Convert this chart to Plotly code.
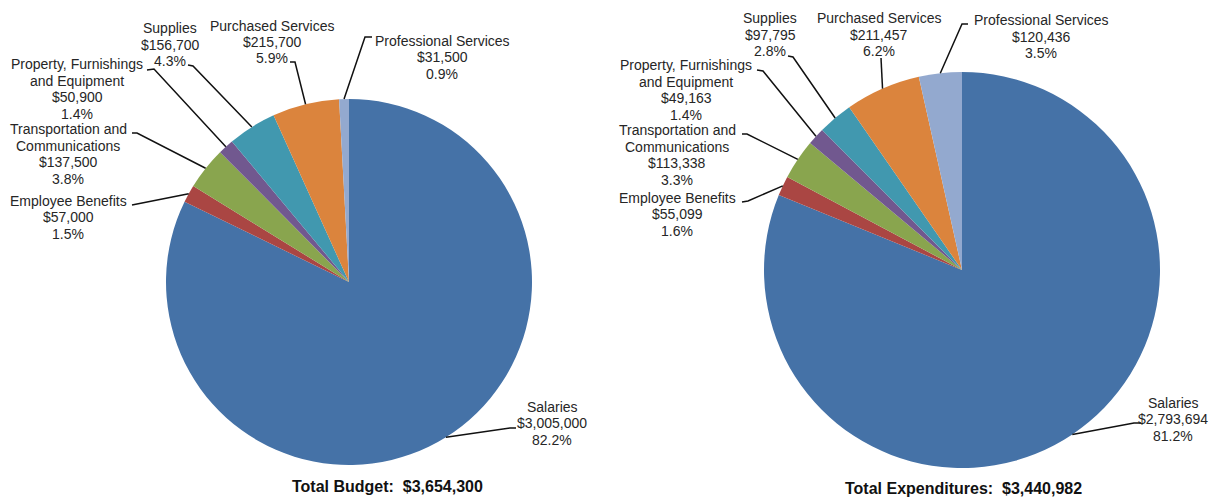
import math
import plotly.graph_objects as go

# ---------------- data ----------------
categories = ["Salaries", "Employee Benefits", "Transportation and Communications",
              "Property, Furnishings and Equipment", "Supplies", "Purchased Services",
              "Professional Services"]
label_names = [["Salaries"], ["Employee Benefits"], ["Transportation and", "Communications"],
               ["Property, Furnishings", "and Equipment"], ["Supplies"], ["Purchased Services"],
               ["Professional Services"]]
budget_values = [3005000, 57000, 137500, 50900, 156700, 215700, 31500]
budget_pct = ["82.2%", "1.5%", "3.8%", "1.4%", "4.3%", "5.9%", "0.9%"]
expend_values = [2793694, 55099, 113338, 49163, 97795, 211457, 120436]
expend_pct = ["81.2%", "1.6%", "3.3%", "1.4%", "2.8%", "6.2%", "3.5%"]
budget_title = "Total Budget:  $3,654,300"
expend_title = "Total Expenditures:  $3,440,982"

colors = ["#4572A7", "#AA4643", "#89A54E", "#71588F", "#4198AF", "#DB843D", "#93A9CF"]

# ---------------- layout (pixels) ----------------
W, H = 1209, 497
LINE = 16.5
FONT = "Liberation Sans, Arial, sans-serif"
pies = [
    dict(values=budget_values, pct=budget_pct, title=budget_title,
         cx=349, cy=282, r=183, title_xy=(388, 486),
         text=[(552, 423), (68, 217), (68, 154), (77, 89), (170, 45), (272, 42), (442, 57)],
         elbow=[(510, 428), (137, 204), (137, 133), (154, 69), (193, 66), (295, 62), (365, 37)],
         end=[(516, 428), (132, 205), (132, 133), (147, 70), (188, 65), (290, 62), (372, 37)]),
    dict(values=expend_values, pct=expend_pct, title=expend_title,
         cx=962, cy=270, r=198, title_xy=(963, 488),
         text=[(1173, 419), (677, 214), (677, 155), (686, 90), (770, 35), (879, 35), (1041, 37)],
         elbow=[(1134, 423), (748, 201), (747, 134), (763, 71), (793, 57), (881, 58), (962, 24)],
         end=[(1141, 423), (742, 202), (742, 134), (757, 70), (788, 56), (881, 58), (968, 24)]),
]


def px(x):
    return x / W


def py(y):
    return 1 - y / H


fig = go.Figure()
shapes = []
annotations = []
for p in pies:
    vals = p["values"]
    total = sum(vals)
    fig.add_trace(go.Pie(
        labels=categories, values=vals, sort=False, direction="clockwise", rotation=0,
        marker=dict(colors=colors, line=dict(width=0)), textinfo="none",
        hovertemplate="%{label}<br>$%{value:,}<extra></extra>",
        domain=dict(x=[px(p["cx"] - p["r"]), px(p["cx"] + p["r"])],
                    y=[py(p["cy"] + p["r"]), py(p["cy"] - p["r"])]),
        showlegend=False,
    ))
    cum = 0
    for i, v in enumerate(vals):
        mid = (cum + v / 2) / total * 2 * math.pi
        cum += v
        sx = p["cx"] + p["r"] * math.sin(mid)
        sy = p["cy"] - p["r"] * math.cos(mid)
        ex, ey = p["elbow"][i]
        fx, fy = p["end"][i]
        shapes.append(dict(
            type="path", xref="paper", yref="paper",
            path=f"M {px(sx)} {py(sy)} L {px(ex)} {py(ey)} L {px(fx)} {py(fy)}",
            line=dict(color="#111111", width=1.5)))
        lines = label_names[i] + [f"${v:,}", p["pct"][i]]
        tx, ty = p["text"][i]
        n = len(lines)
        for k, s in enumerate(lines):
            yy = ty + (k - (n - 1) / 2) * LINE
            annotations.append(dict(
                x=px(tx), y=py(yy), xref="paper", yref="paper", showarrow=False,
                xanchor="center", yanchor="middle", align="center", text=s,
                font=dict(family=FONT, size=14, color="#262626")))
    annotations.append(dict(
        x=px(p["title_xy"][0]), y=py(p["title_xy"][1]), xref="paper", yref="paper",
        showarrow=False, xanchor="center", yanchor="middle",
        text=f"<b>{p['title']}</b>",
        font=dict(family=FONT, size=16, color="#111111")))

fig.update_layout(
    width=W, height=H, margin=dict(l=0, r=0, t=0, b=0),
    paper_bgcolor="white", plot_bgcolor="white",
    shapes=shapes, annotations=annotations, showlegend=False,
)
fig.write_html("out.html", config={"displayModeBar": False},
               post_script="document.body.style.margin='0';document.body.style.overflow='hidden';")
